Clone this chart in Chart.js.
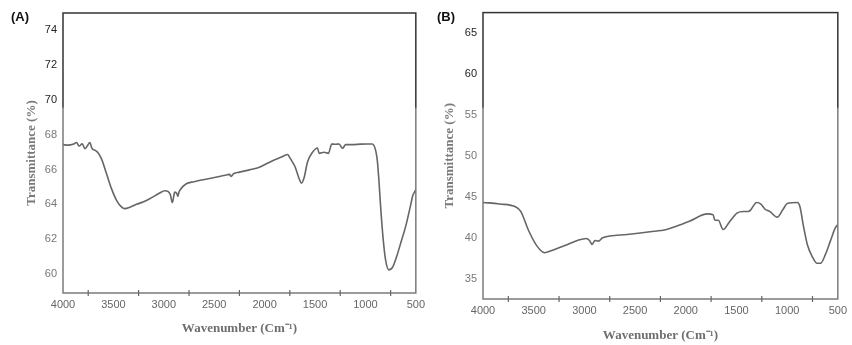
<!DOCTYPE html>
<html>
<head>
<meta charset="utf-8">
<script src="https://cdn.jsdelivr.net/npm/chart.js@4/dist/chart.umd.min.js"></script>
<style>
  body { margin: 0; background: #fff; }
  .panel { position: absolute; top: 0; height: 345px; }
  .tag { position: absolute; top: 9px; font: bold 13px Arial, "Liberation Sans", sans-serif; color: #111; }
</style>
</head>
<body>
<div class="panel" style="left:0;width:430px"><canvas id="chartA" width="430" height="345"></canvas></div>
<div class="panel" style="left:430px;width:422px"><canvas id="chartB" width="422" height="345"></canvas></div>
<div class="tag" style="left:11px">(A)</div>
<div class="tag" style="left:437px">(B)</div>

<script>
// (A) spectrum
const waveA = [4000, 3950, 3900, 3865, 3840, 3810, 3782, 3760, 3733, 3715, 3700, 3680, 3651, 3617,
  3568, 3519, 3469, 3420, 3387, 3330, 3271, 3200, 3140, 3041, 2990, 2959, 2935, 2916, 2900, 2893,
  2870, 2860, 2850, 2837, 2777, 2700, 2613, 2530, 2448, 2370, 2345, 2332, 2310, 2250, 2151, 2052,
  1921, 1840, 1772, 1749, 1723, 1696, 1663, 1634, 1607, 1575, 1525, 1476, 1459, 1410, 1367, 1334,
  1300, 1261, 1228, 1195, 1130, 1050, 980, 932, 898, 882, 866, 849, 826, 800, 767, 727, 685, 651,
  602, 552, 530, 513, 500];
const transA = [67.43, 67.4, 67.45, 67.55, 67.35, 67.48, 67.2, 67.35, 67.55, 67.25, 67.15, 67.1, 66.95, 66.6,
  65.75, 64.9, 64.23, 63.85, 63.75, 63.85, 64.0, 64.15, 64.32, 64.65, 64.78, 64.74, 64.55, 64.1, 64.5, 64.7,
  64.62, 64.45, 64.7, 64.84, 65.18, 65.3, 65.41, 65.5, 65.6, 65.7, 65.72, 65.6, 65.75, 65.85, 65.98, 66.13,
  66.51, 66.7, 66.86, 66.67, 66.42, 66.13, 65.56, 65.22, 65.56, 66.42, 66.99, 67.24, 66.93, 66.99, 66.93, 67.47,
  67.45, 67.47, 67.22, 67.43, 67.43, 67.46, 67.47, 67.47, 67.09, 66.51, 65.37, 63.85, 62.13, 60.8, 60.23, 60.42, 61.09, 61.75,
  62.7, 63.94, 64.51, 64.7, 64.85];
const yTicksA = [60, 62, 64, 66, 68, 70, 72, 74];

// (B) spectrum
const waveB = [4000, 3838, 3676, 3628, 3547, 3467, 3392, 3321, 3191, 3062, 2982, 2949, 2924, 2895, 2862,
  2820, 2578, 2352, 2190, 2093, 1964, 1786, 1731, 1712, 1679, 1631, 1576, 1495, 1431, 1382, 1359, 1301,
  1259, 1220, 1172, 1097, 1043, 995, 898, 874, 839, 801, 752, 704, 671, 622, 574, 525, 500];
const transB = [44.3, 44.11, 43.74, 43.2, 40.78, 38.96, 38.16, 38.44, 39.05, 39.69, 39.9, 39.65, 39.17, 39.65, 39.57,
  39.98, 40.38, 40.71, 40.99, 41.39, 42.0, 42.9, 42.81, 42.12, 42.12, 40.99, 41.8, 43.0, 43.2, 43.2, 43.4, 44.3,
  44.1, 43.5, 43.2, 42.5, 43.4, 44.2, 44.3, 43.8, 41.4, 39.17, 37.67, 36.86, 36.86, 37.95, 39.57, 41.19, 41.6];
const yTicksB = [35, 40, 45, 50, 55, 60, 65];

const xLabels = [4000, 3500, 3000, 2500, 2000, 1500, 1000, 500];

const serif = "'Liberation Serif', 'Times New Roman', serif";
const sans = "Arial, 'Liberation Sans', sans-serif";

// box round the plot + tick marks that cross the x axis, between the labels
const framePlugin = {
  id: "frame",
  afterDatasetsDraw(chart) {
    const { ctx, chartArea: a, scales } = chart;
    const grad = ctx.createLinearGradient(0, 0, 0, chart.height);
    grad.addColorStop(0, "#333");
    grad.addColorStop(0.31, "#333");
    grad.addColorStop(0.315, "#7a7a7a");
    grad.addColorStop(1, "#7a7a7a");
    ctx.save();
    ctx.strokeStyle = grad;
    ctx.lineWidth = 1.5;
    ctx.strokeRect(a.left, a.top, a.right - a.left, a.bottom - a.top);
    ctx.strokeStyle = "#666";
    ctx.lineWidth = 1.2;
    scales.x.ticks.forEach((t) => {
      if (t.value % 500 === 0) return;
      const px = scales.x.getPixelForValue(t.value);
      ctx.beginPath();
      ctx.moveTo(px, a.bottom - 3);
      ctx.lineTo(px, a.bottom + 3);
      ctx.stroke();
    });
    ctx.restore();
  },
};

function makeChart(id, wave, trans, yMin, yMax, yTicks, darkFrom, box) {
  return new Chart(document.getElementById(id), {
    type: "line",
    data: {
      datasets: [
        {
          data: wave.map((w, i) => ({ x: w, y: trans[i] })),
          borderColor: "#666",
          borderWidth: 1.6,
          pointRadius: 0,
          cubicInterpolationMode: "monotone",
        },
      ],
    },
    options: {
      responsive: false,
      animation: false,
      layout: { padding: { top: box.top, right: box.right, left: 0, bottom: 0 } },
      plugins: { legend: { display: false }, tooltip: { enabled: false } },
      scales: {
        x: {
          type: "linear",
          reverse: true,
          min: 500,
          max: 4000,
          afterFit: (s) => { s.height = box.xHeight; },
          border: { display: false },
          grid: { display: true, drawOnChartArea: false, drawTicks: false, color: "rgba(0,0,0,0)" },
          ticks: {
            stepSize: 250,
            autoSkip: false,
            maxRotation: 0,
            padding: 5,
            color: "#666",
            font: { family: sans, size: 11 },
            callback: (v) => (xLabels.includes(v) ? v : ""),
          },
          title: {
            display: true,
            text: "Wavenumber (Cm⁻¹)",
            color: "#6e6e6e",
            font: { family: serif, size: 13, weight: "bold" },
            padding: { top: 0, bottom: box.xTitlePad },
          },
        },
        y: {
          min: yMin,
          max: yMax,
          afterFit: (s) => { s.width = box.yWidth; },
          afterBuildTicks: (s) => { s.ticks = yTicks.map((v) => ({ value: v })); },
          border: { display: false },
          grid: { display: false, drawTicks: false },
          ticks: {
            padding: 6,
            color: (c) => (c.tick && c.tick.value >= darkFrom ? "#222" : "#777"),
            font: { family: sans, size: 11 },
          },
          title: {
            display: true,
            text: "Transmittance (%)",
            color: "#7a7a7a",
            font: { family: serif, size: 13, weight: "bold" },
            padding: { top: box.yTitlePad, bottom: 0 },
          },
        },
      },
    },
    plugins: [framePlugin],
  });
}

makeChart("chartA", waveA, transA, 58.9, 75, yTicksA, 70,
  { top: 13, right: 13, xHeight: 52, yWidth: 63, xTitlePad: 9, yTitlePad: 24 });
makeChart("chartB", waveB, transB, 32.5, 67.5, yTicksB, 60,
  { top: 12, right: 8, xHeight: 46, yWidth: 53, xTitlePad: 2, yTitlePad: 12 });
</script>
</body>
</html>
